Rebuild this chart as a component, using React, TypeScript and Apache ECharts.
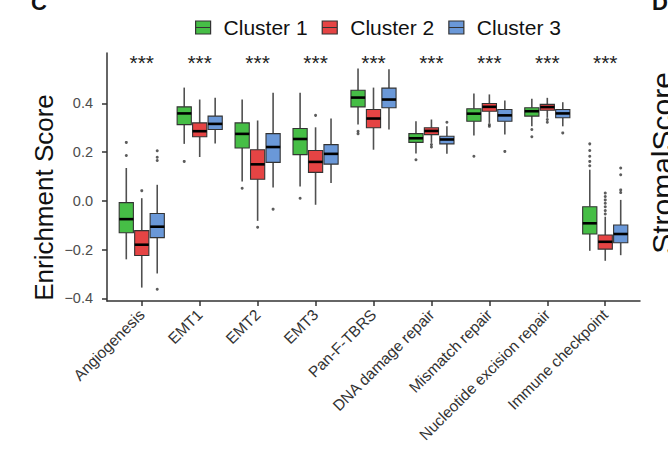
import React, { useEffect, useRef } from "react";
import * as echarts from "echarts";

const CATEGORIES = [
  "Angiogenesis",
  "EMT1",
  "EMT2",
  "EMT3",
  "Pan-F-TBRS",
  "DNA damage repair",
  "Mismatch repair",
  "Nucleotide excision repair",
  "Immune checkpoint",
];
const CLUSTERS = ["Cluster 1", "Cluster 2", "Cluster 3"];
const COLORS = ["#46BE46", "#E54444", "#6A98D8"];
const SIGNIFICANCE = ["***", "***", "***", "***", "***", "***", "***", "***", "***"];
const Y_TICKS = [-0.4, -0.2, 0, 0.2, 0.4];

// [min, Q1, median, Q3, max] per category
const CLUSTER1_BOX = [
  [-0.240, -0.131, -0.075, -0.007, 0.135],
  [0.234, 0.313, 0.359, 0.386, 0.465],
  [0.080, 0.217, 0.275, 0.320, 0.416],
  [0.059, 0.190, 0.254, 0.297, 0.444],
  [0.313, 0.386, 0.424, 0.454, 0.543],
  [0.194, 0.240, 0.257, 0.276, 0.327],
  [0.268, 0.327, 0.358, 0.378, 0.441],
  [0.306, 0.348, 0.368, 0.382, 0.419],
  [-0.205, -0.136, -0.092, -0.024, 0.128],
];
const CLUSTER2_BOX = [
  [-0.356, -0.224, -0.180, -0.122, 0.011],
  [0.180, 0.263, 0.286, 0.320, 0.416],
  [-0.082, 0.089, 0.150, 0.210, 0.330],
  [-0.016, 0.117, 0.160, 0.207, 0.302],
  [0.210, 0.300, 0.338, 0.375, 0.465],
  [0.238, 0.272, 0.287, 0.300, 0.334],
  [0.320, 0.368, 0.386, 0.400, 0.437],
  [0.341, 0.372, 0.385, 0.396, 0.423],
  [-0.246, -0.198, -0.168, -0.140, -0.065],
];
const CLUSTER3_BOX = [
  [-0.298, -0.151, -0.106, -0.052, 0.066],
  [0.235, 0.293, 0.316, 0.348, 0.423],
  [0.055, 0.158, 0.221, 0.276, 0.444],
  [0.073, 0.151, 0.193, 0.231, 0.338],
  [0.293, 0.382, 0.416, 0.463, 0.540],
  [0.193, 0.234, 0.252, 0.265, 0.306],
  [0.272, 0.327, 0.351, 0.375, 0.412],
  [0.306, 0.341, 0.359, 0.375, 0.405],
  [-0.223, -0.172, -0.136, -0.099, 0.004],
];

// outliers: [category index, value]
const CLUSTER1_OUT = [
  [0, 0.240], [0, 0.186], [1, 0.162], [2, 0.052], [3, 0.011], [4, 0.286], [4, 0.276],
  [5, 0.169], [6, 0.183], [7, 0.293], [7, 0.263],
  [8, 0.234], [8, 0.207], [8, 0.183], [8, 0.162], [8, 0.144],
];
const CLUSTER2_OUT = [
  [0, 0.042], [2, -0.108], [3, 0.351], [5, 0.231], [5, 0.221], [6, 0.313], [6, 0.306],
  [7, 0.334], [7, 0.323],
  [8, 0.032], [8, 0.018], [8, 0.004], [8, -0.010], [8, -0.024], [8, -0.040], [8, -0.054],
];
const CLUSTER3_OUT = [
  [0, 0.206], [0, 0.179], [0, 0.166], [0, -0.363], [2, -0.034], [5, 0.323], [6, 0.203],
  [7, 0.279], [8, 0.135], [8, 0.107], [8, 0.045], [8, 0.034],
];

const BOXES = [CLUSTER1_BOX, CLUSTER2_BOX, CLUSTER3_BOX];
const OUTLIERS = [CLUSTER1_OUT, CLUSTER2_OUT, CLUSTER3_OUT];

const DODGE = 0.267;
const BOX_W = 0.245;
const STAR_Y = 0.568;
const FONT = "'Liberation Sans', Arial, sans-serif";
const LEGEND_ICON = "path://M0,0H15V13H0ZM0,6.5H15";

export default function App() {
  const ref = useRef<HTMLDivElement>(null);

  useEffect(() => {
    if (!ref.current) return;
    const chart = echarts.init(ref.current, undefined, { renderer: "svg" });

    const boxSeries = BOXES.map((rows, k) => ({
      type: "custom",
      name: CLUSTERS[k],
      itemStyle: { color: COLORS[k] },
      encode: { x: 0, y: [1, 2, 3, 4, 5] },
      data: rows.map((r, i) => [i, ...r]),
      renderItem: (params: any, api: any) => {
        const xv = api.value(0) + (k - 1) * DODGE;
        const p = (v: number) => api.coord([xv, v]);
        const [cx, yMin] = p(api.value(1));
        const yQ1 = p(api.value(2))[1];
        const yMed = p(api.value(3))[1];
        const yQ3 = p(api.value(4))[1];
        const yMax = p(api.value(5))[1];
        const half = api.size([BOX_W, 0])[0] / 2;
        const whisker = { stroke: "#505050", lineWidth: 1.6 };
        return {
          type: "group",
          children: [
            { type: "line", shape: { x1: cx, y1: yMax, x2: cx, y2: yQ3 }, style: whisker },
            { type: "line", shape: { x1: cx, y1: yQ1, x2: cx, y2: yMin }, style: whisker },
            {
              type: "rect",
              shape: { x: cx - half, y: yQ3, width: half * 2, height: yQ1 - yQ3 },
              style: { fill: COLORS[k], stroke: "#333", lineWidth: 1.1 },
            },
            {
              type: "line",
              shape: { x1: cx - half, y1: yMed, x2: cx + half, y2: yMed },
              style: { stroke: "#000", lineWidth: 2.6 },
            },
          ],
        };
      },
    }));

    const outlierSeries = OUTLIERS.map((pts, k) => ({
      type: "scatter",
      name: CLUSTERS[k],
      symbol: "circle",
      symbolSize: 3,
      itemStyle: { color: "#333" },
      data: pts.map(([i, v]) => [i + (k - 1) * DODGE, v]),
    }));

    const starSeries = {
      type: "custom",
      name: "significance",
      data: SIGNIFICANCE.map((s, i) => [i, STAR_Y]),
      renderItem: (params: any, api: any) => {
        const [x, y] = api.coord([api.value(0), api.value(1)]);
        return {
          type: "text",
          x,
          y,
          style: {
            text: SIGNIFICANCE[params.dataIndex],
            fontSize: 21,
            fontFamily: FONT,
            fill: "#222",
            align: "center",
            verticalAlign: "middle",
          },
        };
      },
    };

    chart.setOption({
      animation: false,
      backgroundColor: "#fff",
      grid: { left: 107, right: 28, top: 53, bottom: 168 },
      legend: {
        left: 195,
        top: 17,
        padding: 0,
        itemWidth: 15,
        itemHeight: 13,
        itemGap: 14,
        selectedMode: false,
        textStyle: { fontSize: 21, color: "#111", fontFamily: FONT, padding: [0, 0, 0, 8] },
        data: CLUSTERS.map((n, i) => ({
          name: n,
          icon: LEGEND_ICON,
          itemStyle: { color: COLORS[i], borderColor: "#333", borderWidth: 1.2 },
        })),
      },
      xAxis: {
        type: "value",
        min: -0.6,
        max: 8.6,
        splitLine: { show: false },
        axisLine: { show: true, onZero: false, lineStyle: { color: "#333", width: 1.5 } },
        axisTick: {
          show: true,
          length: 5,
          customValues: CATEGORIES.map((_, i) => i),
          lineStyle: { color: "#333", width: 1.5 },
        },
        axisLabel: {
          customValues: CATEGORIES.map((_, i) => i),
          rotate: 45,
          margin: 11,
          fontSize: 15.5,
          color: "#333",
          fontFamily: FONT,
          formatter: (v: number) => CATEGORIES[Math.round(v)] ?? "",
        },
      },
      yAxis: {
        type: "value",
        min: -0.411,
        max: 0.607,
        splitLine: { show: false },
        axisLine: { show: true, onZero: false, lineStyle: { color: "#333", width: 1.5 } },
        axisTick: {
          show: true,
          length: 5,
          customValues: Y_TICKS,
          lineStyle: { color: "#333", width: 1.5 },
        },
        axisLabel: {
          customValues: Y_TICKS,
          margin: 14,
          fontSize: 14.5,
          color: "#4d4d4d",
          fontFamily: FONT,
          formatter: (v: number) => v.toFixed(1).replace("-", "\u2212"),
        },
      },
      graphic: [
        {
          type: "text",
          x: 44,
          y: 197.5,
          rotation: Math.PI / 2,
          style: {
            text: "Enrichment Score",
            fontSize: 26,
            fontFamily: FONT,
            fill: "#111",
            align: "center",
            verticalAlign: "middle",
          },
        },
        {
          type: "text",
          x: 31,
          y: 2,
          style: {
            text: "C",
            fontSize: 22,
            fontWeight: "bold",
            fontFamily: FONT,
            fill: "#111",
            align: "left",
            verticalAlign: "middle",
          },
        },
        {
          type: "text",
          x: 652,
          y: 2,
          style: {
            text: "D",
            fontSize: 22,
            fontWeight: "bold",
            fontFamily: FONT,
            fill: "#111",
            align: "left",
            verticalAlign: "middle",
          },
        },
        {
          type: "text",
          x: 647,
          y: 163,
          rotation: Math.PI / 2,
          style: {
            text: "StromalScore",
            fontSize: 30,
            fontFamily: FONT,
            fill: "#111",
            align: "center",
            verticalAlign: "top",
          },
        },
      ],
      series: [...boxSeries, ...outlierSeries, starSeries],
    });

    return () => chart.dispose();
  }, []);

  return (
    <div
      ref={ref}
      style={{ position: "fixed", left: 0, top: 0, width: 668, height: 469 }}
    />
  );
}
